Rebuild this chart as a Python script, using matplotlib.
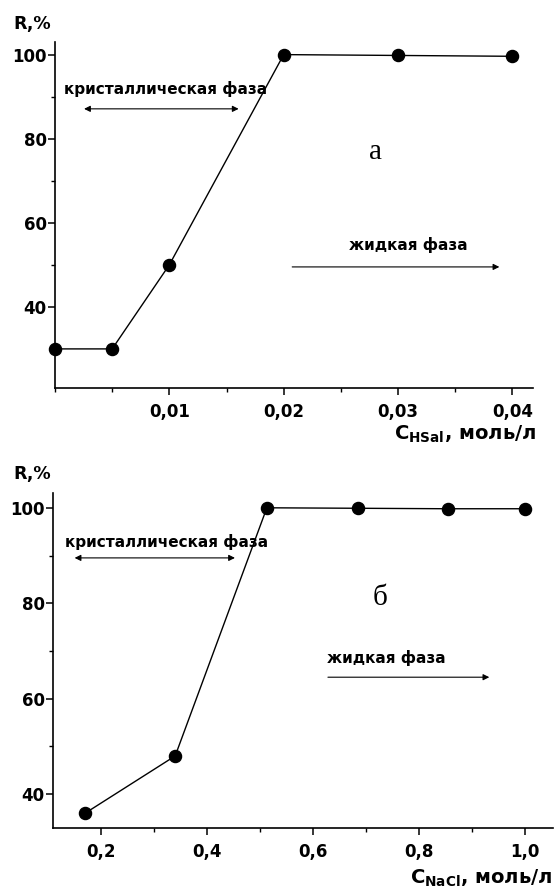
import matplotlib
matplotlib.use("Agg")
import matplotlib.pyplot as plt
from matplotlib.ticker import FixedLocator, FuncFormatter, MultipleLocator

# panel а: salicylic acid concentration
x_hsal = [0.0, 0.005, 0.01, 0.02, 0.03, 0.04]
r_hsal = [30, 30, 50, 100, 99.8, 99.6]
xticks_hsal = [0.01, 0.02, 0.03, 0.04]

# panel б: NaCl concentration
x_nacl = [0.17, 0.34, 0.513, 0.685, 0.855, 1.0]
r_nacl = [36, 48, 100, 99.9, 99.8, 99.8]
xticks_nacl = [0.2, 0.4, 0.6, 0.8, 1.0]

yticks = [40, 60, 80, 100]

plt.rcParams["font.family"] = ["DejaVu Sans"]
plt.rcParams["font.weight"] = "bold"

fig = plt.figure(figsize=(5.55, 8.93), dpi=100)
ax1 = fig.add_axes([55 / 555, 1 - 388 / 893, 478 / 555, 346 / 893])
ax2 = fig.add_axes([53 / 555, 1 - 828 / 893, 500 / 555, 335 / 893])


def comma(v, _pos):
    s = f"{v:.2f}" if v < 0.1 else f"{v:.1f}"
    return s.replace(".", ",")


def style(ax):
    for side in ("top", "right"):
        ax.spines[side].set_visible(False)
    for side in ("left", "bottom"):
        ax.spines[side].set_linewidth(1.2)
    ax.tick_params(which="major", direction="out", length=5, width=1.1,
                   labelsize=12)
    ax.tick_params(axis="y", which="major", pad=1)
    ax.tick_params(axis="x", which="major", pad=6)
    ax.tick_params(which="minor", direction="out", length=3, width=1.0)
    for lab in ax.get_xticklabels() + ax.get_yticklabels():
        lab.set_fontweight("bold")
    ax.yaxis.set_major_locator(FixedLocator(yticks))
    ax.yaxis.set_minor_locator(MultipleLocator(10))


arrow_kw = dict(color="black", lw=0.8, mutation_scale=9)

# --- panel а ---
ax1.plot(x_hsal, r_hsal, color="black", lw=1.0, marker="o", ms=8.7,
         mfc="black", mec="black", clip_on=False)
ax1.set_xlim(0, 0.0418)
ax1.set_ylim(20.7, 103)
ax1.xaxis.set_major_locator(FixedLocator(xticks_hsal))
ax1.xaxis.set_minor_locator(MultipleLocator(0.005))
ax1.xaxis.set_major_formatter(FuncFormatter(comma))
style(ax1)

ax1.text(0.0008, 91.9, "кристаллическая фаза", fontsize=11,
         fontweight="bold", va="center")
ax1.annotate("", xy=(0.0023, 87.1), xytext=(0.0163, 87.1),
             arrowprops=dict(arrowstyle="<|-|>", **arrow_kw))
ax1.text(0.028, 76.8, "а", fontsize=21, family="Liberation Serif",
         fontweight="normal", ha="center", va="center")
ax1.text(0.0257, 54.8, "жидкая фаза", fontsize=11, fontweight="bold",
         va="center")
ax1.annotate("", xy=(0.0391, 49.5), xytext=(0.0205, 49.5),
             arrowprops=dict(arrowstyle="-|>", **arrow_kw))

fig.text(13 / 555, 1 - 24 / 893, "R,%", fontsize=12.5, fontweight="bold",
         va="center")
fig.text(536 / 555, 1 - 440 / 893, r"C$_{\mathbf{HSal}}$, моль/л",
         fontsize=14, fontweight="bold", ha="right", va="baseline")

# --- panel б ---
ax2.plot(x_nacl, r_nacl, color="black", lw=1.0, marker="o", ms=8.7,
         mfc="black", mec="black", clip_on=False)
ax2.set_xlim(0.1094, 1.053)
ax2.set_ylim(32.9, 103.1)
ax2.xaxis.set_major_locator(FixedLocator(xticks_nacl))
ax2.xaxis.set_minor_locator(MultipleLocator(0.1))
ax2.xaxis.set_major_formatter(FuncFormatter(comma))
style(ax2)

ax2.text(0.132, 92.9, "кристаллическая фаза", fontsize=11,
         fontweight="bold", va="center")
ax2.annotate("", xy=(0.145, 89.5), xytext=(0.458, 89.5),
             arrowprops=dict(arrowstyle="<|-|>", **arrow_kw))
ax2.text(0.726, 81.1, "б", fontsize=21, family="Liberation Serif",
         fontweight="normal", ha="center", va="center")
ax2.text(0.626, 68.5, "жидкая фаза", fontsize=11, fontweight="bold",
         va="center")
ax2.annotate("", xy=(0.938, 64.5), xytext=(0.623, 64.5),
             arrowprops=dict(arrowstyle="-|>", **arrow_kw))

fig.text(13 / 555, 1 - 474 / 893, "R,%", fontsize=12.5, fontweight="bold",
         va="center")
fig.text(0.996, 1 - 884 / 893, r"C$_{\mathbf{NaCl}}$, моль/л",
         fontsize=14, fontweight="bold", ha="right", va="baseline")

fig.savefig("out.png", dpi=100)
